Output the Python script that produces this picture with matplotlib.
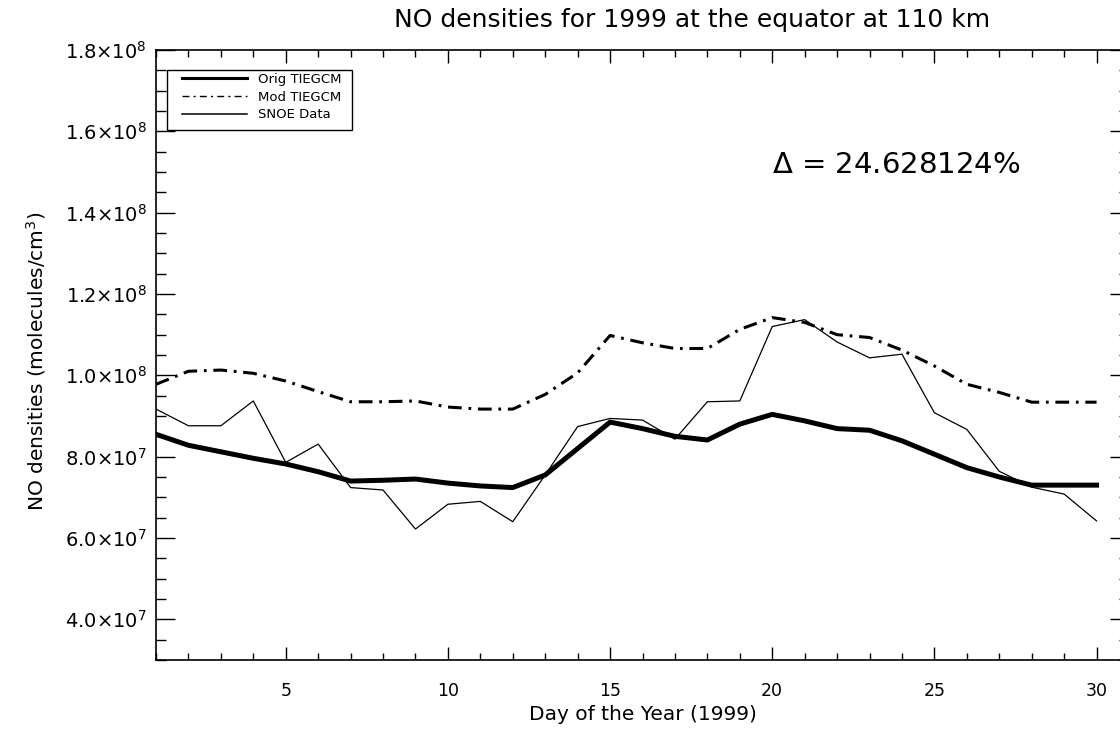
import matplotlib
matplotlib.use('Agg')
import matplotlib.pyplot as plt
from matplotlib.lines import Line2D
from matplotlib.patches import Rectangle
from matplotlib.ticker import MultipleLocator, FuncFormatter

# day of year 1..30
days = list(range(1, 31))

orig_tiegcm = [8.55e7, 8.28e7, 8.12e7, 7.96e7, 7.82e7, 7.63e7, 7.40e7, 7.42e7, 7.45e7, 7.35e7,
               7.28e7, 7.24e7, 7.55e7, 8.20e7, 8.85e7, 8.69e7, 8.50e7, 8.41e7, 8.80e7, 9.04e7,
               8.88e7, 8.69e7, 8.65e7, 8.39e7, 8.06e7, 7.73e7, 7.50e7, 7.30e7, 7.30e7, 7.30e7]

mod_tiegcm = [9.78e7, 1.010e8, 1.013e8, 1.005e8, 9.86e7, 9.60e7, 9.35e7, 9.35e7, 9.37e7, 9.22e7,
              9.17e7, 9.17e7, 9.53e7, 1.006e8, 1.098e8, 1.080e8, 1.066e8, 1.066e8, 1.113e8, 1.142e8,
              1.130e8, 1.100e8, 1.093e8, 1.062e8, 1.023e8, 9.78e7, 9.58e7, 9.34e7, 9.34e7, 9.34e7]

snoe_data = [9.17e7, 8.76e7, 8.76e7, 9.37e7, 7.86e7, 8.31e7, 7.24e7, 7.18e7, 6.22e7, 6.83e7,
             6.90e7, 6.40e7, 7.55e7, 8.74e7, 8.94e7, 8.90e7, 8.43e7, 9.35e7, 9.37e7, 1.120e8,
             1.137e8, 1.082e8, 1.043e8, 1.052e8, 9.08e7, 8.67e7, 7.64e7, 7.25e7, 7.08e7, 6.42e7]

series_names = ['Orig TIEGCM', 'Mod TIEGCM', 'SNOE Data']
delta_pct = 24.628124

plt.rcParams['font.family'] = 'DejaVu Sans'
plt.rcParams['mathtext.fontset'] = 'dejavusans'

fig = plt.figure(figsize=(11.2, 7.29), dpi=100)
# plot box runs a little past the right edge of the image
ax = fig.add_axes([156 / 1120, 69 / 729, 973 / 1120, 610 / 729])

dashdot = (0, (4.5, 2.2, 0.9, 2.2))
ax.plot(days, orig_tiegcm, color='black', lw=3.6, solid_joinstyle='round')
ax.plot(days, mod_tiegcm, color='black', lw=2.2, linestyle=dashdot)
ax.plot(days, snoe_data, color='black', lw=0.9)

ax.set_xlim(1, 31)
ax.set_ylim(3e7, 1.8e8)

ax.xaxis.set_major_locator(MultipleLocator(5))
ax.xaxis.set_minor_locator(MultipleLocator(1))
ax.yaxis.set_major_locator(MultipleLocator(2e7))
ax.yaxis.set_minor_locator(MultipleLocator(5e6))


def sci_fmt(v, pos):
    if v <= 0:
        return ''
    e = 0
    m = v
    while m >= 10:
        m /= 10
        e += 1
    return r'$%.1f{\times}10^{%d}$' % (m, e)


ax.yaxis.set_major_formatter(FuncFormatter(sci_fmt))

ax.tick_params(axis='both', which='both', direction='in', top=True, right=True,
               width=1.0, color='black')
ax.tick_params(axis='x', which='major', length=9.5, pad=15.5, labelsize=12.5)
ax.tick_params(axis='x', which='minor', length=5)
ax.tick_params(axis='y', which='major', length=14, pad=6.5, labelsize=14)
ax.tick_params(axis='y', which='minor', length=7)
for sp in ax.spines.values():
    sp.set_linewidth(1.2)

ax.set_xlabel('Day of the Year (1999)', fontsize=14.5)
ax.xaxis.set_label_coords(487 / 973, -45 / 610)
ax.set_ylabel('NO densities (molecules/cm$^3$)', fontsize=14.5)
ax.yaxis.set_label_coords(-108 / 973, 0.49)

fig.text(692 / 1120, 1 - 20 / 729, 'NO densities for 1999 at the equator at 110 km',
         ha='center', va='center', fontsize=18)

ax.text(0.633, 0.811, r'$\Delta$ = %.6f%%' % delta_pct, transform=ax.transAxes,
        fontsize=21, ha='left', va='center')

# legend: frame drawn separately so the inner padding can be set freely
ax.add_patch(Rectangle((11 / 973, (660 - 130) / 610), 185 / 973, 60 / 610,
                       transform=ax.transAxes, facecolor='white', edgecolor='black',
                       lw=1.0, zorder=4))
handles = [Line2D([], [], color='black', lw=2.2),
           Line2D([], [], color='black', lw=1.0, linestyle=(0, (5, 3, 1.5, 3))),
           Line2D([], [], color='black', lw=1.1)]
leg = ax.legend(handles, series_names, loc='upper left',
                bbox_to_anchor=(26 / 973, (660 - 73) / 610), borderaxespad=0, borderpad=0,
                fontsize=9.5, handlelength=4.9, handletextpad=0.85, labelspacing=0.36,
                frameon=False)
leg.set_zorder(5)

fig.savefig('out.png', dpi=100)
